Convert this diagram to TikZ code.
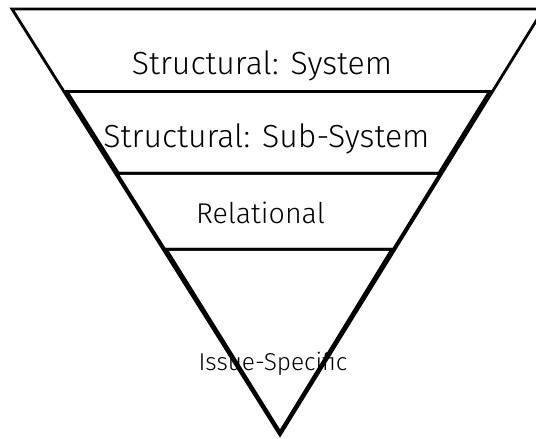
\documentclass[tikz,border=0pt]{standalone}
\usepackage{fontspec}
\setmainfont{Fira Sans Light}
\usepackage{tikz}
\usetikzlibrary{positioning}

\begin{document}
\begin{tikzpicture}[
    x=0.5pt, y=-0.5pt,
    band/.style={draw, line width=1.4pt, line join=miter},
    levellabel/.style={anchor=base, inner sep=0pt, font=\fontsize{16}{19}\selectfont},
    smalllabel/.style={levellabel, font=\fontsize{12.2}{14}\selectfont}
]
    \useasboundingbox (0,0) rectangle (536,439);
    \clip (0,0) rectangle (536,439);

    % labels (the bands are drawn over them)
    \node[levellabel] (system) at (262, 74.5) {Structural: System};
    \node[levellabel] (subsystem) at (266.5, 147) {Structural: Sub-System};
    \node[levellabel, font=\fontsize{14.3}{17}\selectfont] (relational) at (260.5, 223) {Relational};
    \node[smalllabel] (issue) at (273, 370) {Issue-Specific};

    % outer triangle
    \draw[band] (12, 9) -- (543.5, 9) -- (280, 435) -- cycle;

    % bands
    \draw[band] (66.9, 91.5) -- (489.5, 91.5) -- (438.9, 173.3) -- (118.4, 173.3) -- cycle;
    \draw[band] (116.9, 173.3) -- (440.4, 173.3) -- (393.4, 249.3) -- (164.7, 249.3) -- cycle;
    \draw[band] (166.2, 249.3) -- (391.9, 249.3) -- (280, 432) -- cycle;
\end{tikzpicture}
\end{document}
